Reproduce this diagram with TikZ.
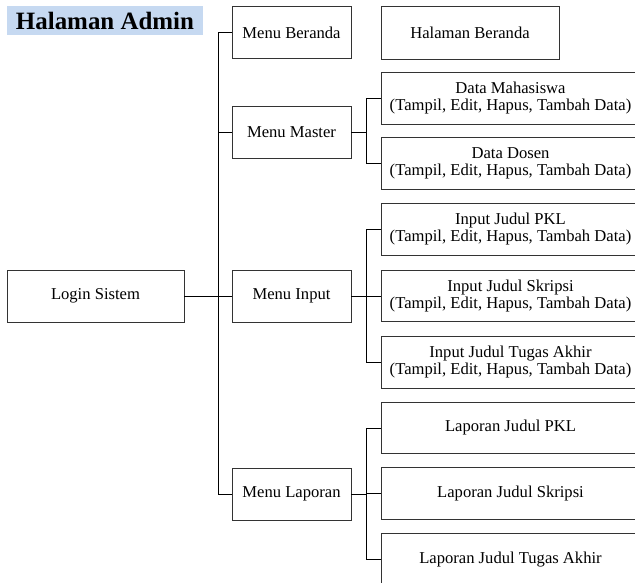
\documentclass[tikz,border=0pt]{standalone}
\usepackage{fontspec}
\setmainfont{LiberationSerif}[Extension=.ttf, UprightFont=*-Regular, BoldFont=*-Bold,
  ItalicFont=*-Italic, BoldItalicFont=*-BoldItalic]
\usetikzlibrary{positioning}
\definecolor{judulbiru}{RGB}{198,217,241}

\tikzset{
  kotak/.style={draw=black!80, line width=0.7pt, fill=white, inner sep=1pt, align=center,
    font=\rmfamily\fontsize{12.45}{12.75}\selectfont},
  menu/.style={kotak, minimum width=89.25pt, minimum height=39pt},
  isi/.style={kotak, minimum width=194.25pt, minimum height=38.5pt},
  garis/.style={draw=black, line width=0.7pt}
}

\begin{document}
\begin{tikzpicture}[x=0.75pt,y=-0.75pt]
\clip (0,0) rectangle (635,582);
\fill[white] (0,0) rectangle (635,582);
% judul
\node[fill=judulbiru, minimum width=147pt, minimum height=21.75pt, inner sep=0pt,
  font=\rmfamily\fontsize{18.7}{20}\selectfont\bfseries] (judul) at (105,20.5) {Halaman Admin};

% menu utama
\node[kotak, minimum width=132.75pt, minimum height=39pt] (login) at (95.5,296) {Login Sistem};
\node[menu] (beranda) at (291.5,32.5) {Menu Beranda};
\node[menu] (master) at (291.5,132.5) {Menu Master};
\node[menu] (input) at (291.5,296) {Menu Input};
\node[menu] (laporan) at (291.5,494) {Menu Laporan};

% sub menu
\node[kotak, minimum width=133.5pt, minimum height=39.75pt] (halberanda) at (470,32.5) {Halaman Beranda};
\node[isi] (mhs) at (510.5,98.5) {Data Mahasiswa\\(Tampil, Edit, Hapus, Tambah Data)};
\node[isi] (dosen) at (510.5,163.5) {Data Dosen\\(Tampil, Edit, Hapus, Tambah Data)};
\node[isi] (inpkl) at (510.5,229.5) {Input Judul PKL\\(Tampil, Edit, Hapus, Tambah Data)};
\node[isi] (inskripsi) at (510.5,296) {Input Judul Skripsi\\(Tampil, Edit, Hapus, Tambah Data)};
\node[isi] (inta) at (510.5,362.5) {Input Judul Tugas Akhir\\(Tampil, Edit, Hapus, Tambah Data)};
\node[isi] (lappkl) at (510.5,428) {Laporan Judul PKL};
\node[isi] (lapskripsi) at (510.5,493.5) {Laporan Judul Skripsi};
\node[isi] (lapta) at (510.5,559.5) {Laporan Judul Tugas Akhir};

\coordinate (tr) at (218,0);
\coordinate (br) at (366,0);

% batang utama
\draw[garis] (login.east) -- (input.west);
\draw[garis] (beranda.west) -- (beranda.west -| tr) -- (laporan.west -| tr) -- (laporan.west);
\draw[garis] (master.west) -- (master.west -| tr);

% cabang
\foreach \induk/\atas/\bawah in {master/mhs/dosen, input/inpkl/inta, laporan/lappkl/lapta}
  \draw[garis] (\induk.east) -- (\induk.east -| br)
    (\atas.west) -- (\atas.west -| br) -- (\bawah.west -| br) -- (\bawah.west);
\draw[garis] (inskripsi.west) -- (inskripsi.west -| br);
\draw[garis] (lapskripsi.west) -- (lapskripsi.west -| br);
\end{tikzpicture}
\end{document}
